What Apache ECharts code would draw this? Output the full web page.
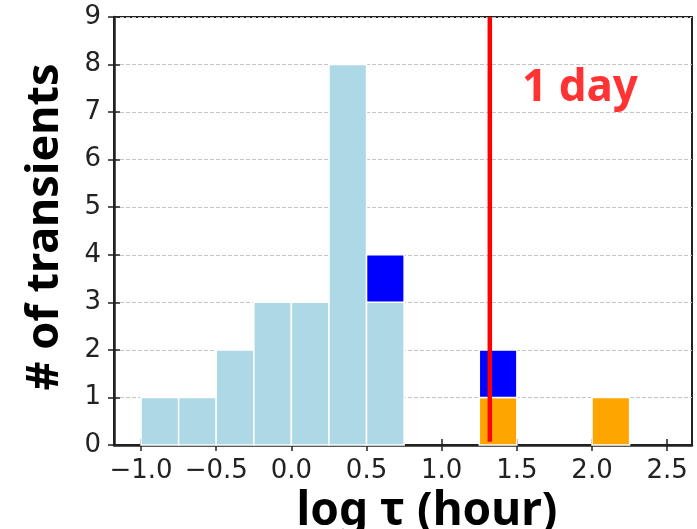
<!DOCTYPE html>
<html>
<head>
<meta charset="utf-8">
<script src="https://cdn.jsdelivr.net/npm/echarts@6/dist/echarts.min.js"></script>
<style>html,body{margin:0;padding:0;background:#fff;}#c{width:697px;height:529px;}</style>
</head>
<body>
<div id="c"></div>
<script>
// ---- data ----
const binStarts = [-1.0, -0.75, -0.5, -0.25, 0.0, 0.25, 0.5, 0.75, 1.0, 1.25, 1.5, 1.75, 2.0, 2.25];
const binWidth = 0.25;
const lightBlueCounts = [1, 1, 2, 3, 3, 8, 3, 0, 0, 0, 0, 0, 0, 0];
const orangeCounts    = [0, 0, 0, 0, 0, 0, 0, 0, 0, 1, 0, 0, 1, 0];
const blueCounts      = [0, 0, 0, 0, 0, 0, 1, 0, 0, 1, 0, 0, 0, 0];
const xTicks = [-1.0, -0.5, 0.0, 0.5, 1.0, 1.5, 2.0, 2.5];
const yTicks = [0, 1, 2, 3, 4, 5, 6, 7, 8, 9];
const dayLineX = 1.32;
const dayLabel = '1 day';
const dayLabelPos = [1.92, 7.5];

// ---- build stacked rect data ----
const base = binStarts.map(() => 0);
function stackData(counts) {
  const out = [];
  counts.forEach((c, i) => {
    if (c > 0) {
      out.push([binStarts[i], binStarts[i] + binWidth, base[i], base[i] + c]);
      base[i] += c;
    }
  });
  return out;
}
const lbData = stackData(lightBlueCounts);
const orData = stackData(orangeCounts);
const blData = stackData(blueCounts);

function renderRect(color) {
  return function (params, api) {
    const p0 = api.coord([api.value(0), api.value(3)]);
    const p1 = api.coord([api.value(1), api.value(2)]);
    return {
      type: 'rect',
      shape: { x: p0[0], y: p0[1], width: p1[0] - p0[0], height: p1[1] - p0[1] },
      style: { fill: color, stroke: '#ffffff', lineWidth: 1.5 }
    };
  };
}

const fmt = v => (v < 0 ? '\u2212' + Math.abs(v).toFixed(1) : Number(v).toFixed(1));
const XMIN = -1.18, XMAX = 2.665;
const labelFont = { fontFamily: 'DejaVu Sans', fontSize: 26, color: '#222' };
const tickStyle = { color: '#222', width: 1.5 };

const chart = echarts.init(document.getElementById('c'), null, { renderer: 'canvas' });
chart.setOption({
  animation: false,
  backgroundColor: '#fff',
  grid: { left: 114, right: 5, top: 17, bottom: 84, outerBoundsMode: 'none', containLabel: false,
          show: true, borderColor: '#222', borderWidth: 2, backgroundColor: 'transparent' },
  xAxis: [{
    type: 'value', min: XMIN, max: XMAX, position: 'bottom',
    name: 'log \u03c4 (hour)', nameLocation: 'middle', nameGap: 40,
    nameTextStyle: { fontFamily: 'Noto Sans', fontWeight: 'bold', fontSize: 46, color: '#000', padding: [0, 0, 0, 48] },
    axisLine: { show: true, onZero: false, lineStyle: { color: '#222', width: 2.5 } },
    axisTick: { show: true, customValues: xTicks, length: 6, lineStyle: tickStyle },
    axisLabel: { customValues: xTicks, formatter: fmt, margin: 13, ...labelFont },
    splitLine: { show: false }
  }, {
    type: 'value', min: XMIN, max: XMAX, position: 'bottom',
    axisLine: { show: false, onZero: false },
    axisTick: { show: true, inside: true, customValues: xTicks, length: 6, lineStyle: tickStyle },
    axisLabel: { show: false }, splitLine: { show: false }
  }],
  yAxis: [{
    type: 'value', min: 0, max: 9, interval: 1, position: 'left',
    name: '# of transients', nameLocation: 'middle', nameGap: 46,
    nameTextStyle: { fontFamily: 'Noto Sans', fontWeight: 'bold', fontSize: 45, color: '#000', padding: [0, 0, 0, 8] },
    axisLine: { show: true, onZero: false, lineStyle: { color: '#222', width: 2.5 } },
    axisTick: { show: true, customValues: yTicks, length: 6, lineStyle: tickStyle },
    axisLabel: { customValues: yTicks, margin: 13, formatter: v => String(v), ...labelFont },
    splitLine: { show: true, lineStyle: { color: '#c4c4c4', width: 1, type: [4, 2] } }
  }, {
    type: 'value', min: 0, max: 9, interval: 1, position: 'left',
    axisLine: { show: false, onZero: false },
    axisTick: { show: true, inside: true, customValues: yTicks, length: 6, lineStyle: tickStyle },
    axisLabel: { show: false }, splitLine: { show: false }
  }],
  series: [
    { type: 'custom', name: 'lightblue', renderItem: renderRect('#ADD8E6'), data: lbData, encode: { x: [0, 1], y: [2, 3] }, z: 2 },
    { type: 'custom', name: 'orange', renderItem: renderRect('#FFA500'), data: orData, encode: { x: [0, 1], y: [2, 3] }, z: 2 },
    { type: 'custom', name: 'blue', renderItem: renderRect('#0000FF'), data: blData, encode: { x: [0, 1], y: [2, 3] }, z: 2 },
    { type: 'line', data: [[dayLineX, 0.07], [dayLineX, 9]], symbol: 'none', lineStyle: { color: '#FF0000', width: 4.5 }, z: 5, silent: true },
    { type: 'scatter', data: [dayLabelPos], symbolSize: 0, z: 6,
      label: { show: true, position: 'inside', formatter: dayLabel, fontFamily: 'Noto Sans', fontWeight: 'bold', fontSize: 44, color: '#FF0000' } }
  ]
});
</script>
</body>
</html>
